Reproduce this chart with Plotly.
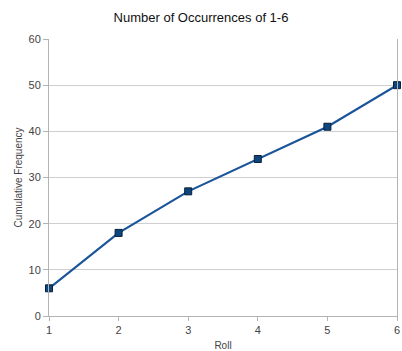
import plotly.graph_objects as go

rolls = [1, 2, 3, 4, 5, 6]
cumulative = [6, 18, 27, 34, 41, 50]
y_ticks = [0, 10, 20, 30, 40, 50, 60]

fig = go.Figure(
    go.Scatter(
        x=rolls,
        y=cumulative,
        mode="lines+markers",
        line=dict(color="#1a559a", width=2.2),
        marker=dict(symbol="square", size=7, color="#0d4580",
                    line=dict(color="#0a1f36", width=1)),
        cliponaxis=False,
    )
)

fig.update_layout(
    width=402,
    height=351,
    margin=dict(l=49, r=2, t=39, b=34),
    paper_bgcolor="white",
    plot_bgcolor="white",
    showlegend=False,
    font=dict(family="Liberation Sans, Arial, sans-serif", color="#444"),
    title=dict(
        text="Number of Occurrences of 1-6",
        x=0.5, xanchor="center", xref="container",
        y=1 - 17 / 351, yanchor="middle",
        font=dict(size=13, color="#111"),
    ),
)

fig.update_xaxes(
    range=[1, 6],
    tickvals=rolls,
    showgrid=False,
    showline=True, linecolor="#b3b3b3", linewidth=1,
    ticks="outside", ticklen=4, tickcolor="#b3b3b3",
    tickfont=dict(size=11, color="#444"),
    ticklabeloverflow="allow",
    title=dict(text="Roll", font=dict(size=10, color="#444"), standoff=6),
    zeroline=False,
)

fig.update_yaxes(
    range=[0, 60],
    tickvals=y_ticks,
    showgrid=True, gridcolor="#cfcfcf", gridwidth=1,
    showline=True, linecolor="#b3b3b3", linewidth=1, mirror=True,
    ticks="outside", ticklen=5, tickcolor="#b3b3b3",
    tickfont=dict(size=11, color="#444"),
    title=dict(text="Cumulative Frequency", font=dict(size=10, color="#444"), standoff=4),
    zeroline=False,
)

fig.write_html("out.html")
